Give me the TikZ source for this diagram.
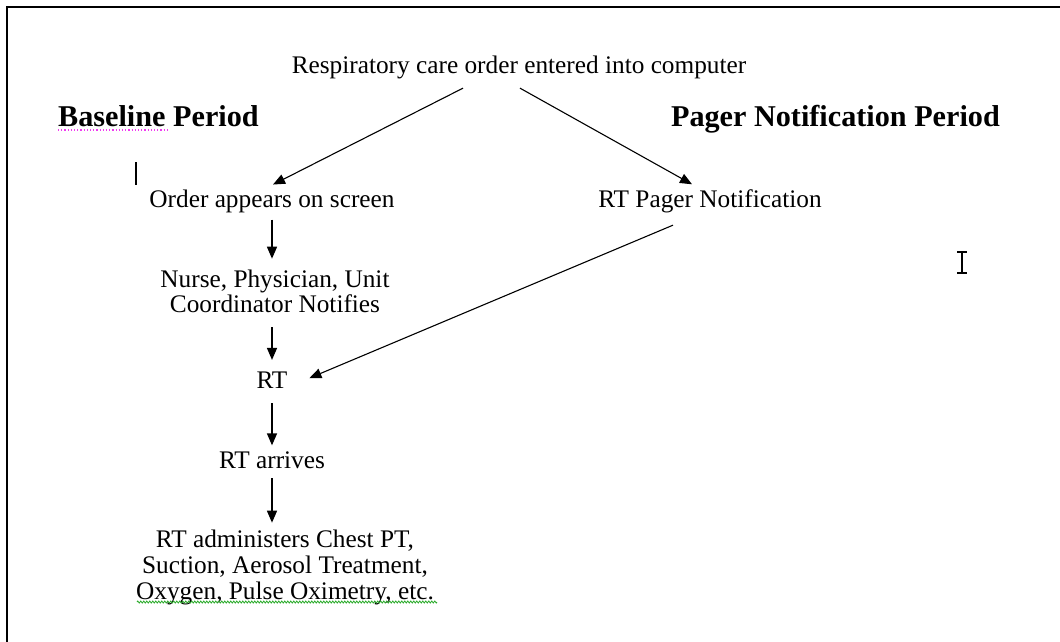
\documentclass[tikz,border=0pt]{standalone}
\usepackage{fontspec}
\setmainfont{Liberation Serif}
\usetikzlibrary{arrows.meta,decorations.pathmorphing}
\definecolor{spellpink}{RGB}{240,60,240}
\definecolor{spellgreen}{RGB}{40,170,40}
\begin{document}
\begin{tikzpicture}[x=1pt,y=-1pt,
  txt/.style={inner sep=0pt, font=\fontsize{25.3}{25.6}\selectfont},
  txtwide/.style={inner sep=0pt, font=\fontsize{25.3}{26.2}\selectfont},
  hdr/.style={inner sep=0pt, font=\fontsize{30.2}{32}\selectfont\bfseries},
  arr/.style={line width=1.4pt, -{Triangle[length=12pt,width=10pt]}},
  darr/.style={line width=1.1pt, -{Triangle[length=12pt,width=10pt]}},
  frame/.style={line width=2.5pt},
  cursor/.style={line width=2.5pt}]
\useasboundingbox (0,0) rectangle (1060,642);
\fill[white] (0,0) rectangle (1060,642);
% frame
\draw[frame] (7,642) -- (7,7) -- (1060,7);

% headings
\node[hdr, anchor=base west] (basep) at (58,126) {Baseline Period};
\node[hdr, anchor=base east] (pagerp) at (1000,126) {Pager Notification Period};

% nodes
\node[txt, anchor=base] (title) at (519,74) {Respiratory care order entered into computer};
\node[txt, anchor=base] (order) at (272,207) {Order appears on screen};
\node[txt, anchor=base] (rtpager) at (710,207) {RT Pager Notification};
\node[txt, anchor=north, align=center] (nurse) at (275,269.5) {Nurse, Physician, Unit\\Coordinator Notifies};
\node[txt, anchor=base] (rt) at (272,388) {RT};
\node[txt, anchor=base] (arrives) at (272,468) {RT arrives};
\node[txtwide, anchor=north, align=center] (admin) at (285,529.5) {RT administers Chest PT,\\Suction, Aerosol Treatment,\\Oxygen, Pulse Oximetry, etc.};

% vertical arrows
\draw[arr, shorten <=12.5pt, shorten >=10.8pt] (order.base) -- (order.base |- nurse.north);
\draw[arr, shorten <=14pt, shorten >=11.3pt] (rt.base |- nurse.south) -- (rt.north);
\draw[arr, shorten <=15pt, shorten >=5.7pt] (rt.south) -- (arrives.north);
\draw[arr, shorten <=10pt, shorten >=6.8pt] (arrives.south) -- (arrives.south |- admin.north);

% diagonal arrows
\draw[darr] ([xshift=-56pt,yshift=-8.5pt]title.south) -- ([xshift=1pt,yshift=4.7pt]order.north);
\draw[darr] ([xshift=1pt,yshift=-8.5pt]title.south) -- ([xshift=-18pt,yshift=4.7pt]rtpager.north);
\draw[darr] ([xshift=-37pt,yshift=-12.5pt]rtpager.south) -- ([xshift=21.8pt,yshift=1.6pt]rt.east);

% spell-check marks
\draw[spellpink, line width=1.2pt, dotted] (58,130) -- (167,130);
\draw[spellgreen, line width=0.8pt, decorate, decoration={zigzag, segment length=3pt, amplitude=1pt}] (137,602) -- (437,602);

% text cursors
\draw[cursor] (136,162) -- (136,185);
\draw[line width=1.5pt] (962,252) -- (962,273);
\draw[line width=1.2pt] (957,252) -- (967,252);
\draw[line width=1.2pt] (957,273) -- (967,273);
\end{tikzpicture}
\end{document}
